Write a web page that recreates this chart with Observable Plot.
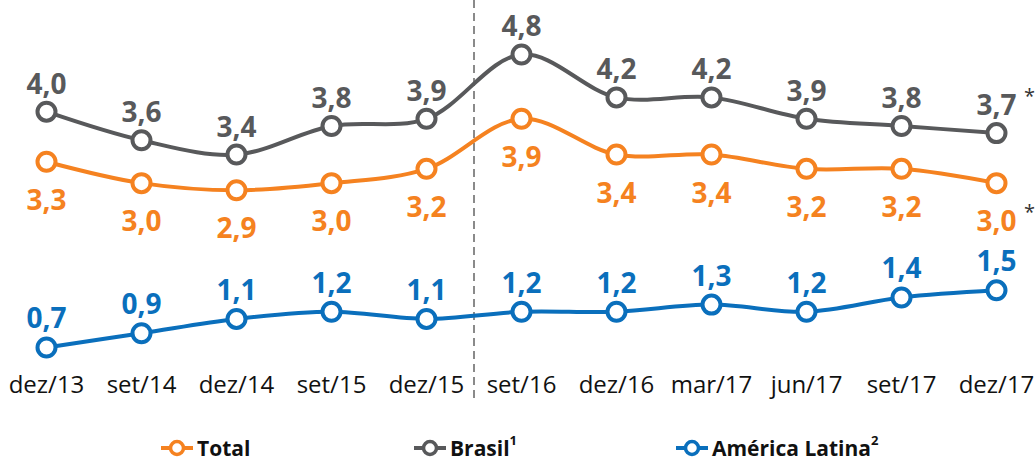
<!DOCTYPE html>
<html>
<head>
<meta charset="utf-8">
<script src="https://cdn.jsdelivr.net/npm/d3@7"></script>
<script src="https://cdn.jsdelivr.net/npm/@observablehq/plot@0.6"></script>
<style>
  body { margin: 0; background: #fff; font-family: "Open Sans", sans-serif; }
  #wrap { position: relative; width: 1036px; height: 462px; overflow: hidden; }
  #legend { position: absolute; left: 0; top: 434px; width: 1036px; height: 28px; }
  .item { position: absolute; top: 0; display: flex; align-items: center; font-weight: 700; font-size: 21px; color: #111; line-height: 28px; height: 28px; }
  .item svg { margin-right: 3px; }
  .item sup { font-size: 13px; vertical-align: 0; position: relative; top: -8px; }
</style>
</head>
<body>
<div id="wrap"><div id="chart"></div><div id="legend"></div></div>
<script>
const categories = ["dez/13","set/14","dez/14","set/15","dez/15","set/16","dez/16","mar/17","jun/17","set/17","dez/17"];
const total  = [3.3, 3.0, 2.9, 3.0, 3.2, 3.9, 3.4, 3.4, 3.2, 3.2, 3.0];
const brasil = [4.0, 3.6, 3.4, 3.8, 3.9, 4.8, 4.2, 4.2, 3.9, 3.8, 3.7];
const latina = [0.7, 0.9, 1.1, 1.2, 1.1, 1.2, 1.2, 1.3, 1.2, 1.4, 1.5];
const seriesNames = ["Total", "Brasil", "América Latina"];
const legendLabels = ["Total", "Brasil<sup>1</sup>", "América Latina<sup>2</sup>"];
const colors = {"Total": "#F58220", "Brasil": "#58595B", "América Latina": "#0A6FBC"};
const asteriskSeries = ["Total", "Brasil"];

const rows = [];
[total, brasil, latina].forEach((arr, si) => {
  arr.forEach((v, i) => rows.push({series: seriesNames[si], cat: categories[i], value: v, last: i === categories.length - 1}));
});
const fmt = v => d3.format(".1f")(v).replace(".", ",");
const labelDy = {"Total": 39, "Brasil": -27, "América Latina": -28};
const font = "Open Sans, sans-serif";

const marks = [];
marks.push(Plot.ruleX([categories[4]], {dx: 47.5, stroke: "#8a8a8a", strokeWidth: 2, strokeDasharray: "8,5", insetTop: -54, insetBottom: -52}));
for (const s of seriesNames) {
  const data = rows.filter(d => d.series === s);
  marks.push(Plot.line(data, {x: "cat", y: "value", stroke: colors[s], strokeWidth: 4, curve: "catmull-rom"}));
  marks.push(Plot.dot(data, {x: "cat", y: "value", r: 9, fill: "#fff", stroke: colors[s], strokeWidth: 4}));
  marks.push(Plot.text(data, {x: "cat", y: "value", text: d => fmt(d.value), dy: labelDy[s], fill: colors[s], fontSize: 28, fontWeight: 700, fontFamily: font}));
  if (asteriskSeries.includes(s)) {
    marks.push(Plot.text(data.filter(d => d.last), {x: "cat", y: "value", text: () => "*", dy: labelDy[s] - 10, dx: 33, fill: "#333", fontSize: 20, fontFamily: font}));
  }
}
marks.push(Plot.axisX({tickSize: 0, tickPadding: 28, fontSize: 24, fontFamily: font, color: "#111", label: null}));

const chart = Plot.plot({
  width: 1036,
  height: 430,
  marginTop: 54,
  marginBottom: 83,
  marginLeft: 45,
  marginRight: 40,
  x: {type: "point", domain: categories, padding: 0},
  y: {domain: [0.7, 4.8], axis: null},
  style: {fontFamily: font, overflow: "visible"},
  marks
});
document.getElementById("chart").appendChild(chart);

const legendX = [160, 413, 675];
const legend = document.getElementById("legend");
seriesNames.forEach((s, i) => {
  const el = document.createElement("div");
  el.className = "item";
  el.style.left = legendX[i] + "px";
  el.innerHTML = `<svg width="34" height="20"><line x1="1" x2="33" y1="10" y2="10" stroke="${colors[s]}" stroke-width="4"/><circle cx="17" cy="10" r="6.5" fill="#fff" stroke="${colors[s]}" stroke-width="3.5"/></svg>${legendLabels[i]}`;
  legend.appendChild(el);
});
</script>
</body>
</html>
